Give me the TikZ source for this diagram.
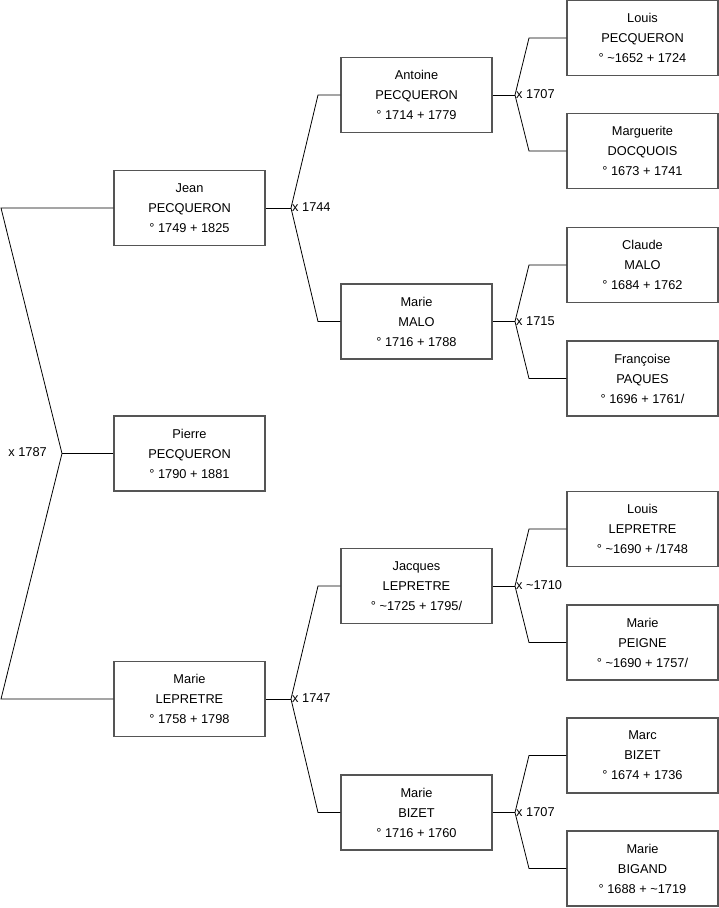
\documentclass[tikz,border=0pt]{standalone}
\usepackage{fontspec}
\setmainfont{Liberation Sans}
\definecolor{boxgray}{RGB}{85,85,85}
\tikzset{
  person/.style={draw=boxgray, line width=1.1pt, minimum width=151pt, minimum height=75pt,
    align=center, font=\fontsize{12.8}{20}\selectfont, inner sep=0pt},
  link/.style={line width=0.8pt, draw=black},
  marr/.style={font=\fontsize{12.8}{15}\selectfont, inner sep=1pt}
}
\begin{document}
\begin{tikzpicture}[x=1pt,y=-1pt]
\useasboundingbox (0,0) rectangle (719,908);
% generation 1
\node[person] (pierre) at (189.5,453.5) {Pierre\\PECQUERON\\° 1790 + 1881};
% generation 2
\node[person] (jean) at (189.5,208) {Jean\\PECQUERON\\° 1749 + 1825};
\node[person] (mariel) at (189.5,699) {Marie\\LEPRETRE\\° 1758 + 1798};
% generation 3
\node[person] (antoine) at (416.5,95) {Antoine\\PECQUERON\\° 1714 + 1779};
\node[person] (malo) at (416.5,321.5) {Marie\\MALO\\° 1716 + 1788};
\node[person] (jacques) at (416.5,586) {Jacques\\LEPRETRE\\° \textasciitilde1725 + 1795/};
\node[person] (bizet) at (416.5,812.5) {Marie\\BIZET\\° 1716 + 1760};
% generation 4
\node[person] (louisp) at (642.5,38) {Louis\\PECQUERON\\° \textasciitilde1652 + 1724};
\node[person] (marguerite) at (642.5,151) {Marguerite\\DOCQUOIS\\° 1673 + 1741};
\node[person] (claude) at (642.5,265) {Claude\\MALO\\° 1684 + 1762};
\node[person] (francoise) at (642.5,378.5) {Françoise\\PAQUES\\° 1696 + 1761/};
\node[person] (louisl) at (642.5,529) {Louis\\LEPRETRE\\° \textasciitilde1690 + /1748};
\node[person] (peigne) at (642.5,642.5) {Marie\\PEIGNE\\° \textasciitilde1690 + 1757/};
\node[person] (marc) at (642.5,755.5) {Marc\\BIZET\\° 1674 + 1736};
\node[person] (bigand) at (642.5,868.5) {Marie\\BIGAND\\° 1688 + \textasciitilde1719};

% fork points
\coordinate (f0) at (62,453.5);
\coordinate (f0a) at (1,208);
\coordinate (f0b) at (1,699);
\coordinate (f1) at (291,208);
\coordinate (f1a) at (318,95);
\coordinate (f1b) at (318,321.5);
\coordinate (f2) at (291,699);
\coordinate (f2a) at (318,586);
\coordinate (f2b) at (318,812.5);
\coordinate (f3) at (515,95);
\coordinate (f3a) at (529,38);
\coordinate (f3b) at (529,151);
\coordinate (f4) at (515,321.5);
\coordinate (f4a) at (529,265);
\coordinate (f4b) at (529,378.5);
\coordinate (f5) at (515,586);
\coordinate (f5a) at (529,529);
\coordinate (f5b) at (529,642.5);
\coordinate (f6) at (515,812.5);
\coordinate (f6a) at (529,755.5);
\coordinate (f6b) at (529,868.5);

% connectors
\draw[link] (pierre.west) -- (f0);
\draw[link] (jean.west) -- (f0a) -- (f0) -- (f0b) -- (mariel.west);
\node[marr, anchor=east] (m0) at (48,452.5) {x 1787};

\draw[link] (jean.east) -- (f1);
\draw[link] (antoine.west) -- (f1a) -- (f1) -- (f1b) -- (malo.west);
\node[marr, anchor=west] (m1) at (291,207.5) {x 1744};

\draw[link] (mariel.east) -- (f2);
\draw[link] (jacques.west) -- (f2a) -- (f2) -- (f2b) -- (bizet.west);
\node[marr, anchor=west] (m2) at (291,698.5) {x 1747};

\draw[link] (antoine.east) -- (f3);
\draw[link] (louisp.west) -- (f3a) -- (f3) -- (f3b) -- (marguerite.west);
\node[marr, anchor=west] (m3) at (515,94.5) {x 1707};

\draw[link] (malo.east) -- (f4);
\draw[link] (claude.west) -- (f4a) -- (f4) -- (f4b) -- (francoise.west);
\node[marr, anchor=west] (m4) at (515,321) {x 1715};

\draw[link] (jacques.east) -- (f5);
\draw[link] (louisl.west) -- (f5a) -- (f5) -- (f5b) -- (peigne.west);
\node[marr, anchor=west] (m5) at (515,585.5) {x \textasciitilde1710};

\draw[link] (bizet.east) -- (f6);
\draw[link] (marc.west) -- (f6a) -- (f6) -- (f6b) -- (bigand.west);
\node[marr, anchor=west] (m6) at (515,812) {x 1707};
\end{tikzpicture}
\end{document}
